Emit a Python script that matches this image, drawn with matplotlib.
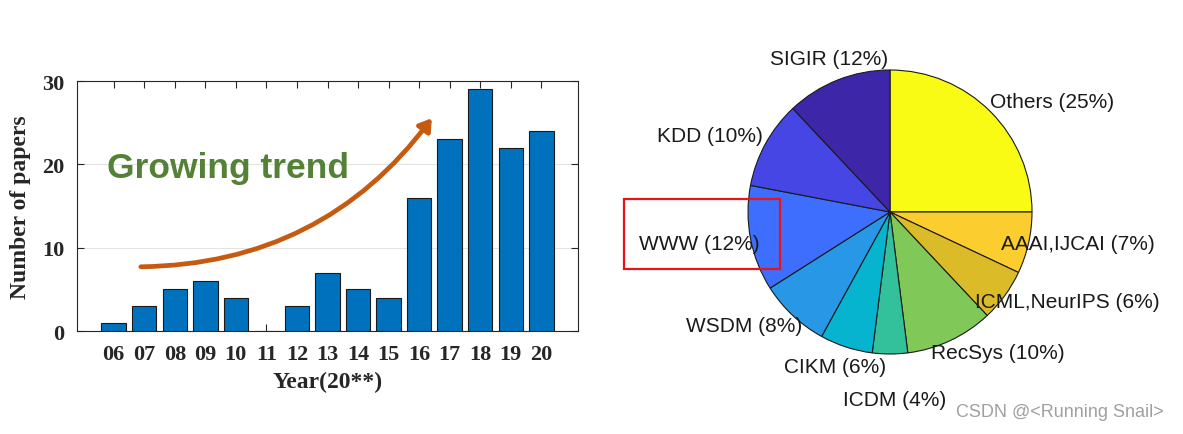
import matplotlib
matplotlib.use("Agg")
import matplotlib.pyplot as plt
import numpy as np
from matplotlib.patches import FancyArrowPatch, Rectangle

# ---- data ----
years = ['06', '07', '08', '09', '10', '11', '12', '13', '14', '15',
         '16', '17', '18', '19', '20']
papers = [1, 3, 5, 6, 4, 0, 3, 7, 5, 4, 16, 23, 29, 22, 24]

venues = ['Others', 'AAAI,IJCAI', 'ICML,NeurIPS', 'RecSys', 'ICDM',
          'CIKM', 'WSDM', 'WWW', 'KDD', 'SIGIR']
shares = [25, 7, 6, 10, 4, 6, 8, 12, 10, 12]

# ---- style ----
serif = 'Liberation Serif'
sans = 'Liberation Sans'
bar_color = '#0072BD'
pie_colors = ['#F9FB15', '#FCCD2E', '#DBBB28', '#80C858', '#33C19B',
              '#06B4CF', '#2797E6', '#3D6EFD', '#4646E5', '#3D27A8']
# label centres in pie-radius units (MATLAB-like placement)
label_xy = [(1.14, 0.78), (1.32, -0.22), (1.25, -0.63), (0.76, -0.99),
            (0.03, -1.32), (-0.39, -1.09), (-1.03, -0.80), (-1.34, -0.22),
            (-1.27, 0.54), (-0.43, 1.08)]

fig = plt.figure(figsize=(11.83, 4.35), dpi=100)

# ---- bar chart ----
ax = fig.add_axes([77/1183, 1-332/435, 501/1183, 250/435])
x = np.arange(len(years))
ax.bar(x, papers, width=0.8, color=bar_color, edgecolor='#1a1a1a',
       linewidth=0.8, zorder=3)
ax.set_xlim(-1.2, len(years) + 0.2)
ax.set_ylim(0, 30)
ax.set_yticks([0, 10, 20, 30])
ax.set_xticks(x)
ax.set_xticklabels(years)
ax.yaxis.grid(True, color='#e3e3e3', linewidth=0.8, zorder=0)
ax.tick_params(direction='in', top=True, right=True, length=5,
               width=0.8, color='#262626', labelsize=16, pad=9)
for lab in ax.get_xticklabels() + ax.get_yticklabels():
    lab.set_fontfamily(serif)
    lab.set_fontweight('bold')
    lab.set_color('#262626')
for s in ax.spines.values():
    s.set_color('#262626')
    s.set_linewidth(0.8)
ax.set_xlabel('Year(20**)', fontfamily=serif, fontweight='bold',
              fontsize=17, color='#262626', labelpad=5)
ax.set_ylabel('Number of papers', fontfamily=serif, fontweight='bold',
              fontsize=17, color='#262626', labelpad=8)

ax.text(3.75, 18.5, 'Growing trend', fontfamily=sans, fontweight='bold',
        fontsize=25.5, color='#538135', ha='center', va='baseline', zorder=5)
arr = FancyArrowPatch((0.8, 7.7), (10.47, 25.8),
                      connectionstyle='arc3,rad=0.25',
                      arrowstyle='-|>,head_length=7,head_width=4.5',
                      color='#C55A11', linewidth=3.4, zorder=6)
ax.add_patch(arr)

# ---- pie chart ----
pax = fig.add_axes([748/1183, 1-355/435, 284/1183, 284/435])
pax.pie(shares, colors=pie_colors, startangle=90, counterclock=False,
        radius=1, wedgeprops=dict(edgecolor='#1a1a1a', linewidth=0.8))
pax.set_xlim(-1, 1)
pax.set_ylim(-1, 1)
pax.set_aspect('auto')
pax.axis('off')
for name, val, (lx, ly) in zip(venues, shares, label_xy):
    pax.text(lx, ly, f'{name} ({val}%)', fontfamily=sans, fontsize=15,
             color='#1a1a1a', ha='center', va='center', clip_on=False)

# red highlight box around WWW
fig.add_artist(Rectangle((624/1183, 1-270/435), 156/1183, 70/435,
                         transform=fig.transFigure, fill=False,
                         edgecolor='#E8141A', linewidth=1.6, zorder=10))

fig.text(1060/1183, 1-413/435, 'CSDN @<Running Snail>', fontfamily=sans,
         fontsize=13, color='#a0a0a0', ha='center', va='center')

fig.savefig('out.png', dpi=100)
